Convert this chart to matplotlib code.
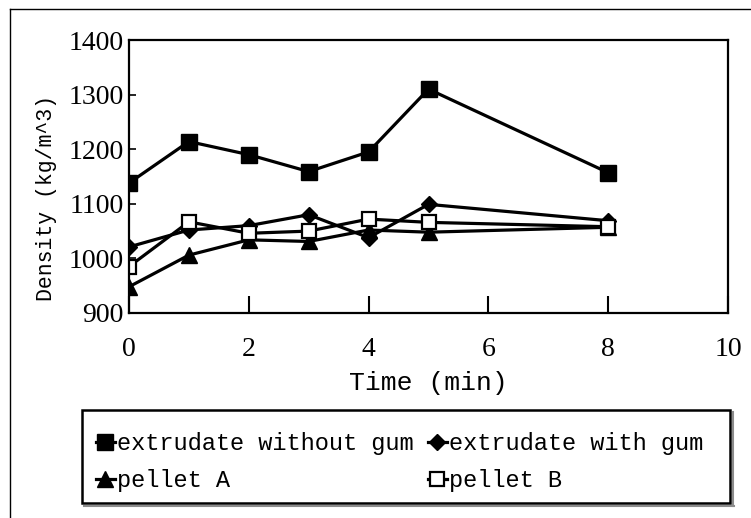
import matplotlib
matplotlib.use("Agg")
import matplotlib.pyplot as plt
from matplotlib.lines import Line2D
from matplotlib.patches import Rectangle

time = [0, 1, 2, 3, 4, 5, 8]
without_gum = [1138, 1214, 1190, 1159, 1195, 1310, 1157]
with_gum = [1021, 1052, 1060, 1080, 1038, 1099, 1069]
pellet_a = [948, 1006, 1034, 1031, 1052, 1048, 1057]
pellet_b = [985, 1067, 1046, 1050, 1072, 1066, 1058]

series_labels = ["extrudate without gum", "extrudate with gum", "pellet A", "pellet B"]
x_ticks = [0, 2, 4, 6, 8, 10]
y_ticks = [900, 1000, 1100, 1200, 1300, 1400]

plt.rcParams['font.family'] = ['Liberation Serif', 'DejaVu Serif']
mono = ['Liberation Mono', 'DejaVu Sans Mono']

W, H = 751, 518
fig = plt.figure(figsize=(W / 100, H / 100), dpi=100)
ax = fig.add_axes([129 / W, 1 - 313 / H, (728 - 129) / W, (313 - 40) / H])

lw = 2.3
h1, = ax.plot(time, without_gum, color='black', lw=lw, marker='s', ms=12, mfc='black', mec='black')
h2, = ax.plot(time, with_gum, color='black', lw=lw, marker='D', ms=8.5, mfc='black', mec='black')
h3, = ax.plot(time, pellet_a, color='black', lw=lw, marker='^', ms=11, mfc='black', mec='black')
h4, = ax.plot(time, pellet_b, color='black', lw=lw, marker='s', ms=10, mfc='white', mec='black', mew=1.6)

ax.set_xlim(0, 10)
ax.set_ylim(900, 1400)
ax.set_xticks(x_ticks)
ax.set_yticks(y_ticks)
ax.tick_params(axis='x', direction='in', length=12, width=1.5, labelsize=20, pad=17.5)
ax.tick_params(axis='y', direction='in', length=5, width=1.2, labelsize=20, pad=4)
for s in ax.spines.values():
    s.set_linewidth(1.6)

ax.set_xlabel("Time (min)", fontsize=19, labelpad=6, family=mono)
ax.set_ylabel("Density (kg/m^3)", fontsize=15.5, family=mono)
ax.yaxis.set_label_coords(-0.12, 0.42)

handles = [h1, h3, h2, h4]
labels = [series_labels[0], series_labels[2], series_labels[1], series_labels[3]]
leg = fig.legend(handles, labels, ncol=2, loc='upper left',
                 bbox_to_anchor=(96 / W, 1 - 432 / H),
                 handlelength=0.8, handletextpad=0.1,
                 columnspacing=0.6, frameon=False,
                 borderpad=0.0, labelspacing=0.6, borderaxespad=0.0,
                 prop={'family': mono, 'size': 17})

# legend frame with faint shadow
fig.add_artist(Rectangle((82 / W, 1 - 503 / H), (730 - 82) / W, (503 - 410) / H,
                         fill=False, edgecolor='black', lw=1.8, transform=fig.transFigure))
fig.add_artist(Line2D([84 / W, 734 / W], [1 - 506 / H, 1 - 506 / H], color='0.55', lw=1.5, transform=fig.transFigure))
fig.add_artist(Line2D([733 / W, 733 / W], [1 - 506 / H, 1 - 412 / H], color='0.55', lw=1.5, transform=fig.transFigure))

# outer frame (left and top edges)
fig.add_artist(Line2D([10 / W, 10 / W], [0, 1 - 9 / H], color='black', lw=1.0, transform=fig.transFigure))
fig.add_artist(Line2D([10 / W, 1], [1 - 9 / H, 1 - 9 / H], color='black', lw=1.0, transform=fig.transFigure))

fig.savefig("out.png", dpi=100)
